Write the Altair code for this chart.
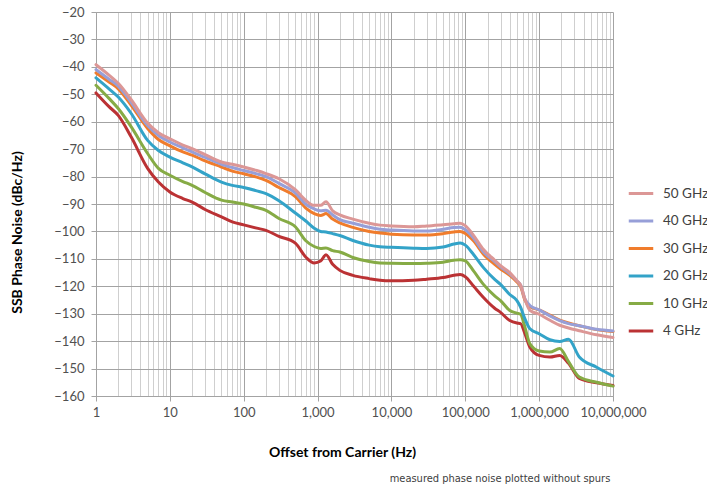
import altair as alt
import pandas as pd

offset_hz = [1, 1.5, 2, 3, 5, 7,
             10, 15, 20, 30, 50, 70,
             100, 150, 200, 300, 500, 700, 900,
             1100, 1300, 1600, 2000, 3000, 5000, 7000,
             10000, 20000, 30000, 50000, 70000, 85000,
             100000, 130000, 175000, 250000, 300000, 400000, 500000, 560000, 640000, 750000,
             1000000, 1400000, 1900000, 2500000, 3500000, 6000000, 10000000]

pn_50ghz = [-39.2, -43, -46, -52, -60.5, -64,
            -66.2, -68.5, -69.8, -72, -74.7, -75.5,
            -76.5, -77.8, -78.9, -80.8, -84.8, -88.8, -90.5,
            -90.5, -89.2, -92.5, -94, -95.5, -97, -97.7,
            -98, -98.3, -98, -97.6, -97.2, -97,
            -97.9, -101.5, -106.5, -110.5, -112.5, -115, -118, -119.5, -124.6, -128.8,
            -130.2, -132.4, -134.2, -135.2, -136.2, -137.7, -138.7]
pn_40ghz = [-41, -44.5, -47, -53, -61.4, -65,
            -67.4, -69.5, -71, -73, -75.5, -76.7,
            -77.8, -79, -80, -82.5, -86, -90.2, -91.8,
            -92.5, -92.3, -94, -95.7, -97, -98.5, -99.2,
            -99.5, -99.8, -99.8, -99.2, -98.6, -98.5,
            -99.4, -102.5, -107.4, -111, -112.9, -115.5, -118, -119.5, -124.5, -127,
            -128.6, -130.8, -132.5, -133.6, -134.4, -135.7, -136.3]
pn_30ghz = [-42.2, -45.5, -48, -54, -62.5, -66.5,
            -68.8, -71, -72.2, -74.3, -76.5, -78,
            -79, -80.2, -81.4, -84, -87.3, -91.6, -93.5,
            -94.2, -93.5, -95.5, -96.9, -98.5, -100, -100.6,
            -101, -101.3, -101.3, -100.8, -100.2, -100,
            -100.7, -103.5, -108.2, -112, -113.7, -116, -118.4, -120, -125, -127.5,
            -128.6, -130.5, -132.3, -133.4, -134.4, -135.8, -136.5]
pn_20ghz = [-44, -48, -51, -57, -66.8, -70.5,
            -72.9, -75, -76.5, -79, -82, -83.2,
            -84, -85.2, -86.2, -88.8, -93.3, -96.3, -98.8,
            -100, -100.2, -100.8, -101.5, -103.3, -105, -105.6,
            -105.8, -106.1, -106.2, -105.7, -104.6, -104.2,
            -105, -108.5, -113.1, -117.5, -119.3, -123, -125.2, -127.6, -131.8, -135.5,
            -137.3, -139.5, -140.1, -139.3, -145.8, -149.5, -152.7]
pn_10ghz = [-46.7, -51.5, -55.2, -61.9, -71.6, -77,
            -79.5, -81.8, -83.2, -85.8, -88.6, -89.3,
            -90, -91.3, -92.3, -95.3, -98.3, -103.5, -105.5,
            -106.2, -106, -107, -107.5, -109.5, -111, -111.5,
            -111.6, -111.7, -111.6, -111.2, -110.5, -110.3,
            -110.7, -114.5, -119.2, -123.5, -125.2, -128.8, -129.8, -130.2, -134.8, -141,
            -143.6, -144, -142.7, -147.5, -153.1, -155, -156.4]
pn_4ghz = [-49.5, -54.5, -57.7, -65.6, -77, -82,
           -85.6, -88, -89.3, -92, -94.7, -96.5,
           -97.6, -98.8, -99.6, -101.8, -104.3, -109.5, -111.5,
           -110.8, -108.5, -112, -114.2, -116, -117.2, -117.8,
           -118, -117.8, -117.4, -116.8, -116, -115.7,
           -116.5, -120, -124, -128, -129.5, -132.5, -133.4, -133.6, -137.2, -142.2,
           -145.2, -145.8, -145.2, -148.1, -153.6, -155.2, -156.2]

series_names = ["50 GHz", "40 GHz", "30 GHz", "20 GHz", "10 GHz", "4 GHz"]
series_values = [pn_50ghz, pn_40ghz, pn_30ghz, pn_20ghz, pn_10ghz, pn_4ghz]
series_colors = ["#dc9796", "#979fd8", "#f07c2c", "#33a3c8", "#86ab45", "#bb3234"]

decades = [1, 10, 100, 1000, 10000, 100000, 1000000, 10000000]
grid_values = []
for d in decades[:-1]:
    grid_values += [d * k for k in range(1, 10)]
grid_values.append(10000000)

y_ticks = list(range(-160, -19, 10))

note = "measured phase noise plotted without spurs"

rows = []
# draw lowest curve first so the 50 GHz trace sits on top
for name, vals in reversed(list(zip(series_names, series_values))):
    for f, v in zip(offset_hz, vals):
        rows.append({"offset": f, "pn": v, "series": name})
df = pd.DataFrame(rows)

is_decade = "indexof([1,10,100,1000,10000,100000,1000000,10000000], datum.value) >= 0"

lines = alt.Chart(df).mark_line(strokeWidth=3, interpolate="monotone", strokeCap="round").encode(
    x=alt.X("offset:Q",
            scale=alt.Scale(type="log", domain=[1, 10000000], nice=False),
            axis=alt.Axis(values=grid_values, grid=True,
                          gridColor=alt.condition(is_decade, alt.value("#a3a3a3"), alt.value("#cfcfcf")),
                          gridWidth=1,
                          tickColor=alt.condition(is_decade, alt.value("#a3a3a3"), alt.value("transparent")),
                          tickSize=5,
                          labelExpr=is_decade + " ? format(datum.value, ',') : ''",
                          labelOverlap=False, labelFlush=False,
                          labelFont="Lato", labelFontSize=13, labelColor="#505050",
                          labelPadding=5,
                          domainColor="#a3a3a3",
                          title="Offset from Carrier (Hz)",
                          titleFont="Lato", titleFontSize=14, titleFontWeight="bold",
                          titleColor="#000000",
                          titleX=246, titleY=56, titleAlign="center", titleBaseline="middle")),
    y=alt.Y("pn:Q",
            scale=alt.Scale(domain=[-160, -20], nice=False, zero=False),
            axis=alt.Axis(values=y_ticks, grid=True, gridColor="#a3a3a3", gridWidth=1,
                          tickSize=5, tickColor="#a3a3a3", domainColor="#a3a3a3",
                          labelFont="Lato", labelFontSize=13, labelColor="#505050",
                          labelPadding=7, format="d",
                          title="SSB Phase Noise (dBc/Hz)",
                          titleFont="Lato", titleFontSize=14, titleFontWeight="bold",
                          titleColor="#000000",
                          titleAngle=270, titleX=-78.5, titleY=220,
                          titleAlign="center", titleBaseline="middle")),
    color=alt.Color("series:N",
                    scale=alt.Scale(domain=series_names, range=series_colors),
                    legend=alt.Legend(orient="none", legendX=531, legendY=167.5, title=None,
                                      symbolType="stroke", symbolSize=600, symbolStrokeWidth=3,
                                      labelFont="Lato", labelFontSize=13.5, labelColor="#404040",
                                      labelOffset=8, rowPadding=6.5, padding=0)),
)

note_text = alt.Chart(pd.DataFrame({"t": [note]})).mark_text(
    font="Liberation Sans Narrow, DejaVu Sans Condensed, sans-serif",
    fontSize=11, color="#404040", align="center", baseline="middle"
).encode(text="t:N", x=alt.value(404), y=alt.value(466.5))

chart = alt.layer(lines, note_text).properties(
    width=517, height=384,
    autosize=alt.AutoSizeParams(type="none"),
    padding={"left": 96, "top": 12, "right": 94, "bottom": 93},
    background="white",
).configure_view(stroke=None)

chart.save("out.html", embed_options={"renderer": "svg", "actions": False})
